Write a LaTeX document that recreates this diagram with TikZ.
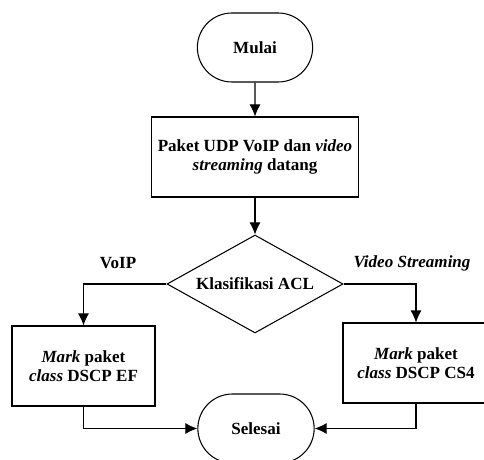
\documentclass[tikz,border=0pt]{standalone}
\usepackage{fontspec}
\setmainfont{Liberation Serif}
\usetikzlibrary{arrows.meta,shapes.geometric,shapes.misc}

\begin{document}
\begin{tikzpicture}[>={Latex[length=2.4mm,width=2.2mm]},
    every node/.style={font=\fontsize{9.7}{11}\selectfont\bfseries},
    terminal/.style={draw,line width=0.6pt,rounded rectangle,minimum width=2.54cm,minimum height=1.38cm},
    process/.style={draw,line width=0.6pt,rectangle,align=center,minimum height=1.6cm},
    decision/.style={draw,line width=0.6pt,diamond,aspect=1.8,inner sep=0pt,minimum width=3.52cm,minimum height=1.96cm},
    flow/.style={->,line width=0.6pt}]
    %%%%%%%%%%%%%%%%%%%%%%%%%%%%
    % 484x459 px, 1 px = 0.02 cm
    %%%%%%%%%%%%%%%%%%%%%%%%%%%%
    \useasboundingbox (0,0) rectangle (9.68,9.18);
    \clip (0,0) rectangle (9.68,9.18);

    % start and input
    \node[terminal] (mulai) at (5.10,8.23) {Mulai};
    \node[process,minimum width=4.08cm] (paket) at (5.10,6.04)
        {Paket UDP VoIP dan \textit{video}\\ \textit{streaming} datang};
    \draw[flow] (mulai) -- (paket);

    % classification
    \node[decision] (acl) at (5.10,3.50) {Klasifikasi ACL};
    \draw[flow] (paket) -- (acl);
    \node (voip) at (2.36,3.92) {VoIP};
    \node (video) at (8.24,3.92) {\textit{Video Streaming}};

    % marking
    \node[process,minimum width=2.86cm] (ef) at (1.67,1.86)
        {\textit{Mark} paket\\ \textit{class} DSCP EF};
    \node[process,minimum width=2.92cm] (cs4) at (8.32,1.92)
        {\textit{Mark} paket\\ \textit{class} DSCP CS4};
    \draw[flow] (acl.west) -| (ef.north);
    \draw[flow] (acl.east) -| (cs4.north);

    % end
    \node[terminal,minimum width=2.56cm] (selesai) at (5.12,0.61) {Selesai};
    \draw[flow] (ef.south) |- (selesai.west);
    \draw[flow] (cs4.south) |- (selesai.east);

\end{tikzpicture}
\end{document}
